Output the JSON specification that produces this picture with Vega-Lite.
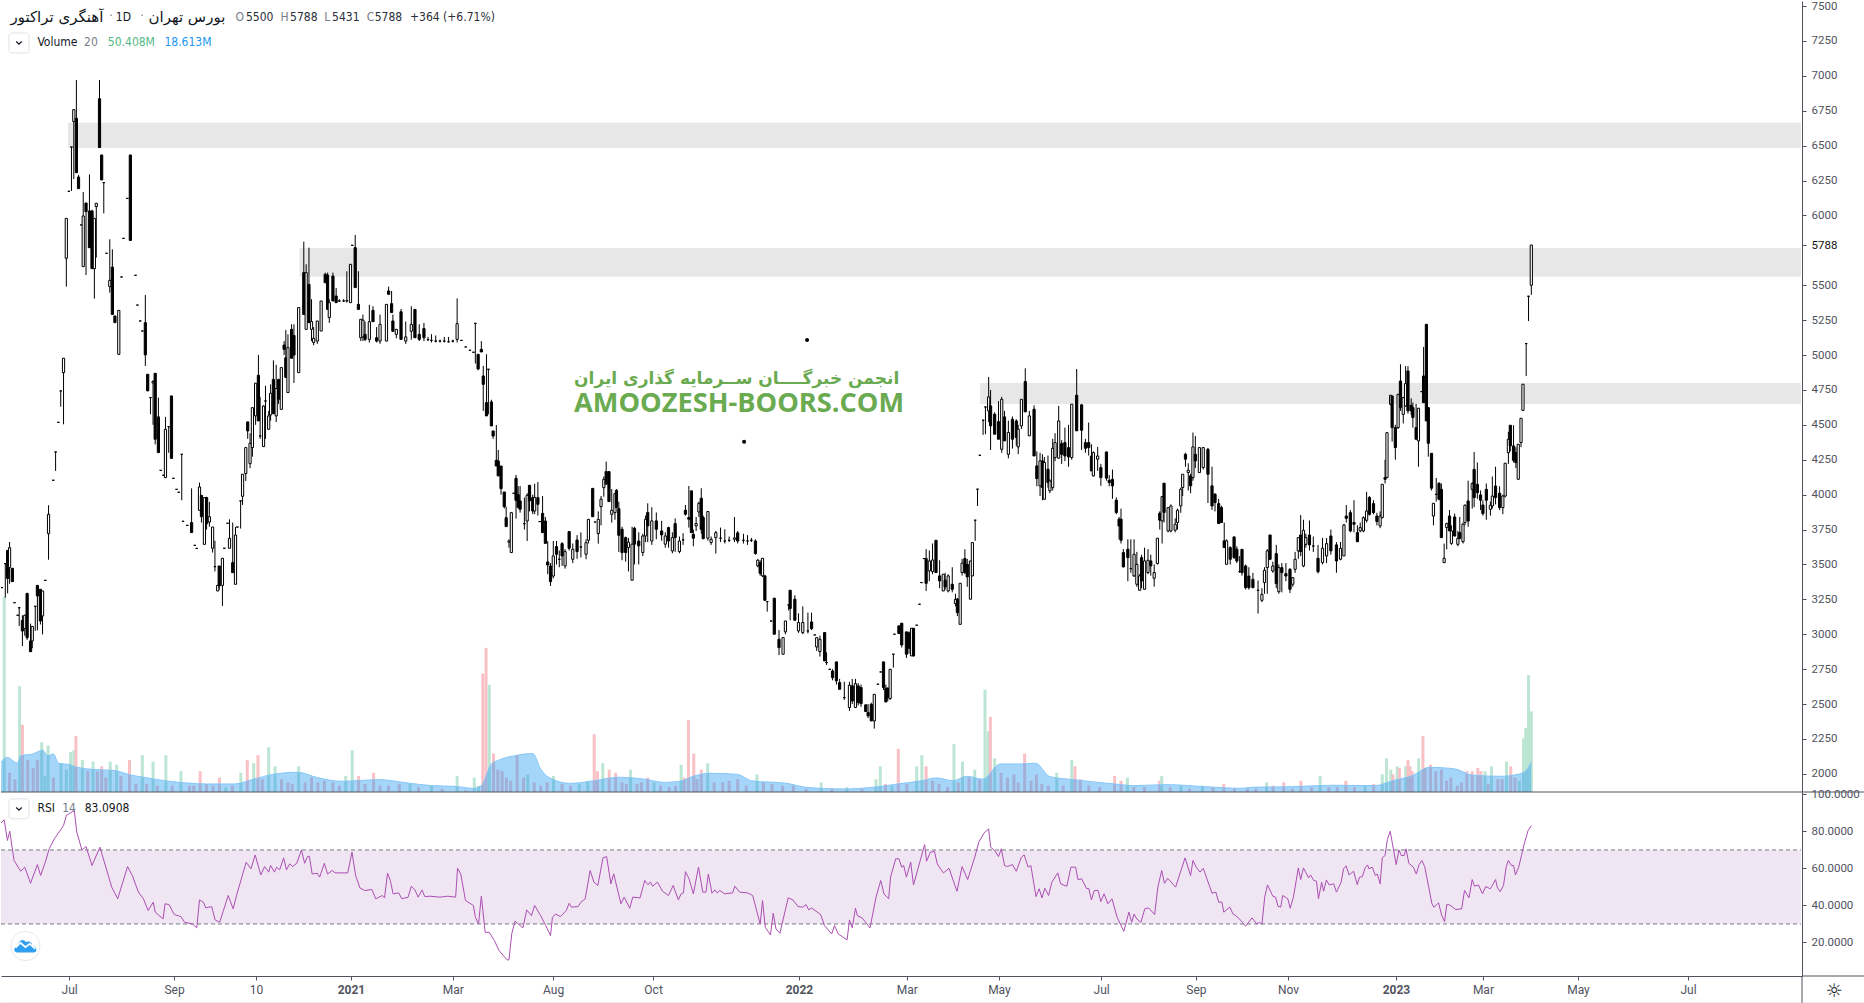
{"$schema":"https://vega.github.io/schema/vega-lite/v6.json","padding":0,"background":"#ffffff","spacing":0,"bounds":"flush",
"config":{"view":{"stroke":null},"concat":{"spacing":0},"font":"Roboto"},
"datasets":{
"zones":[{"t":31.3,"t2":840.5,"a":6483,"b":6663},{"t":139.4,"t2":840.5,"a":5560,"b":5767},{"t":457.2,"t2":840.5,"a":4650,"b":4800}],
"candles":[
{"t":0.4,"o":3334,"h":3334,"l":3334,"c":3334},{"t":2,"o":3506,"h":3506,"l":3262,"c":3506},{"t":3.1,"o":3600,"h":3601,"l":3293,"c":3400},{"t":4,"o":3477,"h":3661,"l":3362,"c":3620},{"t":5.3,"o":3472,"h":3475,"l":3377,"c":3377},{"t":6.3,"o":3226,"h":3226,"l":3226,"c":3226},{"t":7.8,"o":3136,"h":3136,"l":3136,"c":3136},{"t":8.5,"o":3190,"h":3190,"l":3059,"c":3190},{"t":10,"o":3100,"h":3136,"l":2916,"c":3023},{"t":11.1,"o":3040,"h":3140,"l":2990,"c":3136},{"t":12.2,"o":3293,"h":3293,"l":2960,"c":2975},{"t":13.8,"o":2952,"h":3076,"l":2875,"c":2875},{"t":14.6,"o":2952,"h":3056,"l":2900,"c":3056},{"t":16,"o":3200,"h":3200,"l":3024,"c":3200},{"t":17,"o":3350,"h":3350,"l":3028,"c":3274},{"t":18.4,"o":3322,"h":3322,"l":3070,"c":3095},{"t":19.4,"o":3131,"h":3310,"l":2999,"c":3310},{"t":20.7,"o":3386,"h":3386,"l":3386,"c":3386},{"t":22.2,"o":3720,"h":3924,"l":3534,"c":3859},{"t":24.4,"o":4103,"h":4103,"l":4103,"c":4103},{"t":25.5,"o":4306,"h":4306,"l":4170,"c":4306},{"t":26.8,"o":4518,"h":4518,"l":4518,"c":4518},{"t":27.9,"o":4743,"h":4743,"l":4630,"c":4743},{"t":29.2,"o":4874,"h":4977,"l":4504,"c":4977},
{"t":30.5,"o":5693,"h":5979,"l":5490,"c":5979},{"t":31.7,"o":6173,"h":6173,"l":6173,"c":6173},{"t":32.9,"o":6490,"h":6490,"l":6175,"c":6490},{"t":34,"o":6672,"h":6758,"l":6260,"c":6758},{"t":35.2,"o":6696,"h":6970,"l":6306,"c":6306},{"t":36.2,"o":6275,"h":6290,"l":6192,"c":6192},{"t":37.5,"o":5932,"h":5932,"l":5932,"c":5932},{"t":38.4,"o":5633,"h":6168,"l":5633,"c":5996},{"t":39.7,"o":6089,"h":6089,"l":5573,"c":6027},{"t":41.3,"o":6032,"h":6294,"l":5769,"c":5769},{"t":42.5,"o":6032,"h":6040,"l":5619,"c":5619},{"t":43.6,"o":5619,"h":5979,"l":5404,"c":5979},{"t":44.5,"o":6063,"h":6087,"l":5698,"c":6087},{"t":46,"o":6836,"h":6970,"l":6486,"c":6486},{"t":47,"o":6433,"h":6433,"l":6254,"c":6254},{"t":48,"o":6235,"h":6235,"l":6015,"c":6235},{"t":49.3,"o":5729,"h":5729,"l":5729,"c":5729},{"t":50.8,"o":5490,"h":5829,"l":5447,"c":5535},{"t":52,"o":5630,"h":5757,"l":5291,"c":5291},{"t":53.2,"o":5280,"h":5280,"l":5232,"c":5232},{"t":55,"o":5005,"h":5320,"l":5005,"c":5320},{"t":56.3,"o":5559,"h":5559,"l":5559,"c":5559},{"t":57.2,"o":5836,"h":5836,"l":5836,"c":5836},{"t":59,"o":6122,"h":6122,"l":6122,"c":6122},{"t":60.4,"o":6433,"h":6433,"l":5821,"c":5821},{"t":62.8,"o":5571,"h":5571,"l":5571,"c":5571},{"t":63.7,"o":5358,"h":5358,"l":5358,"c":5358},{"t":65,"o":5244,"h":5244,"l":5244,"c":5244},{"t":66,"o":5172,"h":5172,"l":5172,"c":5172},{"t":67.4,"o":5232,"h":5430,"l":4922,"c":5001},{"t":68.5,"o":4862,"h":4862,"l":4743,"c":4743},{"t":69.8,"o":4695,"h":4695,"l":4576,"c":4695},{"t":71,"o":4800,"h":4820,"l":4500,"c":4810},{"t":72,"o":4869,"h":4869,"l":4360,"c":4397},{"t":73.5,"o":4557,"h":4695,"l":4301,"c":4301},{"t":74.6,"o":4174,"h":4174,"l":4174,"c":4174},{"t":75.9,"o":4139,"h":4139,"l":4139,"c":4139},{"t":76.8,"o":4122,"h":4557,"l":4122,"c":4468},{"t":78.3,"o":4487,"h":4487,"l":4300,"c":4487},{"t":79.6,"o":4707,"h":4707,"l":4260,"c":4260},{"t":80.5,"o":4117,"h":4117,"l":4117,"c":4117},{"t":82,"o":4038,"h":4038,"l":4038,"c":4038},{"t":83,"o":4017,"h":4017,"l":4017,"c":4017},{"t":84.4,"o":4289,"h":4289,"l":3960,"c":4289},{"t":85,"o":3809,"h":3809,"l":3809,"c":3809},{"t":87,"o":3780,"h":3780,"l":3780,"c":3780},{"t":89,"o":3800,"h":4045,"l":3728,"c":3728},{"t":90.5,"o":3637,"h":3637,"l":3637,"c":3637},{"t":91.4,"o":3615,"h":3615,"l":3615,"c":3615},{"t":92.7,"o":3888,"h":4086,"l":3888,"c":4055},{"t":93.6,"o":3995,"h":3995,"l":3800,"c":3842},{"t":95,"o":3644,"h":3979,"l":3644,"c":3979},{"t":96,"o":3979,"h":3985,"l":3750,"c":3792},{"t":97.3,"o":3804,"h":3948,"l":3770,"c":3842},{"t":98.8,"o":3616,"h":3768,"l":3585,"c":3768},{"t":99.9,"o":3484,"h":3670,"l":3450,"c":3484},{"t":101.2,"o":3310,"h":3350,"l":3310,"c":3350},{"t":101.9,"o":3489,"h":3489,"l":3320,"c":3346},{"t":103.4,"o":3350,"h":3544,"l":3203,"c":3544},{"t":104.3,"o":3616,"h":3616,"l":3616,"c":3616},{"t":105.8,"o":3795,"h":3795,"l":3795,"c":3795},{"t":106.7,"o":3616,"h":3823,"l":3616,"c":3687},{"t":108.2,"o":3513,"h":3800,"l":3441,"c":3441},{"t":109.5,"o":3358,"h":3768,"l":3358,"c":3711},{"t":110.4,"o":3768,"h":3768,"l":3768,"c":3768},{"t":111.9,"o":3955,"h":3955,"l":3757,"c":3955},{"t":112.8,"o":3988,"h":4146,"l":3926,"c":4146},{"t":114.3,"o":4151,"h":4337,"l":4098,"c":4337},{"t":115.2,"o":4521,"h":4521,"l":4400,"c":4456},{"t":116.3,"o":4222,"h":4440,"l":4190,"c":4368},{"t":117.4,"o":4337,"h":4623,"l":4272,"c":4623},{"t":118.9,"o":4564,"h":4798,"l":4500,"c":4798},{"t":120.2,"o":4855,"h":5001,"l":4528,"c":4528},{"t":121,"o":4420,"h":4700,"l":4400,"c":4420},{"t":122.6,"o":4344,"h":4640,"l":4344,"c":4635},{"t":123.5,"o":4671,"h":4780,"l":4400,"c":4671},{"t":125,"o":4468,"h":4600,"l":4468,"c":4564},{"t":125.9,"o":4571,"h":4790,"l":4530,"c":4726},{"t":127.2,"o":4826,"h":4962,"l":4580,"c":4580},{"t":128.5,"o":4564,"h":4930,"l":4520,"c":4760},{"t":129.6,"o":4826,"h":4826,"l":4650,"c":4683},{"t":130.9,"o":4611,"h":4910,"l":4611,"c":4910},{"t":132.2,"o":5072,"h":5100,"l":5000,"c":5041},{"t":133,"o":4980,"h":5180,"l":4840,"c":4840},{"t":134,"o":4731,"h":5148,"l":4731,"c":5053},{"t":135.7,"o":5184,"h":5220,"l":4977,"c":4977},{"t":136.8,"o":5140,"h":5220,"l":4800,"c":5000},{"t":139,"o":4874,"h":5340,"l":4874,"c":5340},
{"t":141.4,"o":5590,"h":5812,"l":5291,"c":5291},{"t":142.5,"o":5184,"h":5650,"l":5184,"c":5590},{"t":143.8,"o":5506,"h":5769,"l":5232,"c":5232},{"t":145,"o":5184,"h":5400,"l":5100,"c":5240},{"t":146,"o":5090,"h":5200,"l":5070,"c":5120},{"t":147.7,"o":5100,"h":5244,"l":5080,"c":5244},{"t":149.5,"o":5172,"h":5387,"l":5172,"c":5387},{"t":151.4,"o":5578,"h":5590,"l":5518,"c":5518},{"t":152.5,"o":5573,"h":5590,"l":5327,"c":5327},{"t":153.3,"o":5268,"h":5400,"l":5230,"c":5375},{"t":155,"o":5566,"h":5590,"l":5387,"c":5387},{"t":156.5,"o":5423,"h":5480,"l":5375,"c":5375},{"t":158,"o":5387,"h":5400,"l":5380,"c":5387},{"t":160,"o":5387,"h":5400,"l":5380,"c":5387},{"t":161.5,"o":5387,"h":5600,"l":5375,"c":5390},{"t":163.2,"o":5375,"h":5650,"l":5375,"c":5650},{"t":164,"o":5786,"h":5786,"l":5786,"c":5786},{"t":165.4,"o":5769,"h":5860,"l":5483,"c":5483},{"t":166.9,"o":5363,"h":5600,"l":5327,"c":5327},{"t":168,"o":5124,"h":5256,"l":5100,"c":5256},{"t":169,"o":5130,"h":5290,"l":5100,"c":5250},{"t":170,"o":5148,"h":5240,"l":5100,"c":5112},{"t":172,"o":5112,"h":5360,"l":5090,"c":5239},{"t":173.7,"o":5320,"h":5350,"l":5239,"c":5239},{"t":175.4,"o":5124,"h":5200,"l":5090,"c":5100},{"t":177,"o":5100,"h":5290,"l":5080,"c":5220},{"t":180,"o":5100,"h":5363,"l":5100,"c":5363},{"t":181,"o":5459,"h":5490,"l":5435,"c":5435},{"t":182.4,"o":5368,"h":5459,"l":5304,"c":5304},{"t":183,"o":5244,"h":5290,"l":5170,"c":5170},{"t":184.6,"o":5148,"h":5184,"l":5120,"c":5184},{"t":186.8,"o":5310,"h":5330,"l":5112,"c":5112},{"t":189,"o":5100,"h":5240,"l":5080,"c":5130},{"t":191.6,"o":5170,"h":5350,"l":5110,"c":5220},{"t":193.3,"o":5327,"h":5327,"l":5124,"c":5124},{"t":195.3,"o":5148,"h":5220,"l":5100,"c":5112},{"t":197.5,"o":5190,"h":5230,"l":5100,"c":5124},{"t":199.4,"o":5110,"h":5130,"l":5100,"c":5110},{"t":201,"o":5105,"h":5150,"l":5090,"c":5105},{"t":203,"o":5100,"h":5140,"l":5090,"c":5100},{"t":205,"o":5100,"h":5110,"l":5090,"c":5100},{"t":207,"o":5100,"h":5130,"l":5090,"c":5100},{"t":209,"o":5095,"h":5130,"l":5090,"c":5095},{"t":211,"o":5100,"h":5110,"l":5090,"c":5100},{"t":213,"o":5112,"h":5406,"l":5090,"c":5225},{"t":215,"o":5105,"h":5105,"l":5105,"c":5105},{"t":217,"o":5058,"h":5058,"l":5058,"c":5058},{"t":219,"o":5034,"h":5034,"l":5034,"c":5034},{"t":220.6,"o":5020,"h":5020,"l":5020,"c":5020},{"t":221.5,"o":5227,"h":5227,"l":4939,"c":5227},{"t":222.8,"o":5005,"h":5005,"l":4891,"c":4900},{"t":224.3,"o":5041,"h":5100,"l":5022,"c":5022},{"t":225.2,"o":4850,"h":4922,"l":4600,"c":4790},{"t":226.7,"o":4659,"h":5005,"l":4564,"c":4564},{"t":227.6,"o":4898,"h":4898,"l":4576,"c":4898},{"t":229,"o":4664,"h":4680,"l":4492,"c":4492},{"t":229.8,"o":4456,"h":4456,"l":4400,"c":4420},{"t":231.3,"o":4246,"h":4499,"l":4205,"c":4205},{"t":232.2,"o":4241,"h":4320,"l":4134,"c":4134},{"t":233.5,"o":4205,"h":4205,"l":4000,"c":4043},{"t":235,"o":4019,"h":4019,"l":3900,"c":3914},{"t":235.9,"o":3835,"h":3914,"l":3771,"c":3771},{"t":237.2,"o":3660,"h":3680,"l":3620,"c":3668},{"t":238.3,"o":3585,"h":3871,"l":3585,"c":3871},{"t":239.4,"o":4010,"h":4010,"l":4010,"c":4010},{"t":240.5,"o":4117,"h":4141,"l":3828,"c":3959},{"t":241.5,"o":4000,"h":4060,"l":3900,"c":3910},{"t":242.4,"o":3955,"h":4062,"l":3871,"c":3895},{"t":244.4,"o":3792,"h":3979,"l":3750,"c":3792},{"t":245.7,"o":3811,"h":4010,"l":3668,"c":3995},{"t":246.8,"o":4067,"h":4067,"l":3880,"c":3955},{"t":248.3,"o":3979,"h":4000,"l":3860,"c":3883},{"t":249.2,"o":3883,"h":4078,"l":3860,"c":3980},{"t":250.7,"o":3979,"h":4090,"l":3850,"c":3931},{"t":251.6,"o":3807,"h":3807,"l":3807,"c":3807},{"t":252.9,"o":3866,"h":3990,"l":3728,"c":3728},{"t":254.2,"o":3811,"h":3840,"l":3651,"c":3651},{"t":255.3,"o":3518,"h":3668,"l":3430,"c":3496},{"t":256.6,"o":3489,"h":3510,"l":3346,"c":3377},{"t":257.9,"o":3417,"h":3668,"l":3400,"c":3561},{"t":259.4,"o":3628,"h":3668,"l":3500,"c":3573},{"t":260.7,"o":3537,"h":3600,"l":3480,"c":3537},{"t":262,"o":3649,"h":3660,"l":3490,"c":3561},{"t":263.4,"o":3489,"h":3610,"l":3470,"c":3592},{"t":265.3,"o":3735,"h":3740,"l":3600,"c":3616},{"t":267,"o":3537,"h":3650,"l":3510,"c":3609},{"t":269,"o":3675,"h":3710,"l":3540,"c":3592},{"t":270.8,"o":3625,"h":3730,"l":3550,"c":3625},{"t":273.2,"o":3573,"h":3680,"l":3537,"c":3656},{"t":274.3,"o":3673,"h":3823,"l":3650,"c":3823},{"t":276.3,"o":4045,"h":4045,"l":3842,"c":3842},{"t":277.4,"o":3804,"h":3804,"l":3804,"c":3804},{"t":278.9,"o":3721,"h":3880,"l":3649,"c":3823},{"t":280.2,"o":3914,"h":3990,"l":3780,"c":3967},{"t":281.5,"o":4050,"h":4130,"l":3985,"c":4110},{"t":282.6,"o":4165,"h":4237,"l":4075,"c":4075},{"t":283.9,"o":4165,"h":4165,"l":3950,"c":3950},{"t":285.2,"o":3859,"h":4040,"l":3800,"c":3888},{"t":286.7,"o":3871,"h":4007,"l":3820,"c":4007},{"t":287.4,"o":4031,"h":4040,"l":3907,"c":3907},{"t":288.5,"o":3900,"h":3950,"l":3590,"c":3709},
{"t":290,"o":3752,"h":3770,"l":3530,"c":3585},{"t":291.7,"o":3692,"h":3700,"l":3520,"c":3585},{"t":293,"o":3620,"h":3690,"l":3450,"c":3660},{"t":294.7,"o":3387,"h":3770,"l":3387,"c":3645},{"t":295.8,"o":3759,"h":3770,"l":3500,"c":3645},{"t":297.8,"o":3668,"h":3730,"l":3500,"c":3633},{"t":299.7,"o":3585,"h":3720,"l":3560,"c":3704},{"t":301,"o":3704,"h":3850,"l":3660,"c":3824},{"t":302,"o":3872,"h":3938,"l":3660,"c":3776},{"t":303.9,"o":3668,"h":3910,"l":3640,"c":3812},{"t":306,"o":3812,"h":3872,"l":3680,"c":3752},{"t":308.5,"o":3740,"h":3812,"l":3670,"c":3712},{"t":310.2,"o":3645,"h":3730,"l":3620,"c":3704},{"t":311.7,"o":3764,"h":3770,"l":3620,"c":3668},{"t":313.5,"o":3597,"h":3730,"l":3580,"c":3692},{"t":314.8,"o":3793,"h":3830,"l":3590,"c":3692},{"t":316.8,"o":3592,"h":3700,"l":3580,"c":3668},{"t":318.5,"o":3676,"h":3724,"l":3640,"c":3676},{"t":319.6,"o":3888,"h":3926,"l":3850,"c":3860},{"t":321.2,"o":3836,"h":4062,"l":3764,"c":3824},{"t":322.4,"o":4027,"h":4027,"l":3728,"c":3728},{"t":323.3,"o":3716,"h":3750,"l":3630,"c":3688},{"t":324.6,"o":3776,"h":3840,"l":3740,"c":3793},{"t":325.9,"o":3876,"h":3950,"l":3840,"c":3938},{"t":327,"o":3974,"h":4046,"l":3720,"c":3752},{"t":327.9,"o":3836,"h":3850,"l":3680,"c":3685},{"t":330.1,"o":3688,"h":3879,"l":3670,"c":3879},{"t":331.6,"o":3657,"h":3700,"l":3640,"c":3680},{"t":333.8,"o":3692,"h":3740,"l":3578,"c":3728},{"t":336,"o":3688,"h":3764,"l":3660,"c":3688},{"t":338,"o":3668,"h":3752,"l":3650,"c":3668},{"t":340,"o":3673,"h":3700,"l":3660,"c":3673},{"t":342.5,"o":3680,"h":3840,"l":3660,"c":3690},{"t":344,"o":3726,"h":3740,"l":3650,"c":3668},{"t":346.7,"o":3673,"h":3720,"l":3650,"c":3673},{"t":348.6,"o":3668,"h":3710,"l":3640,"c":3668},{"t":350.4,"o":3673,"h":3690,"l":3660,"c":3673},{"t":352.3,"o":3668,"h":3680,"l":3570,"c":3578},{"t":353.4,"o":3490,"h":3540,"l":3480,"c":3530},{"t":354.5,"o":3513,"h":3530,"l":3420,"c":3437},{"t":355.6,"o":3418,"h":3544,"l":3410,"c":3544},{"t":356.7,"o":3418,"h":3425,"l":3243,"c":3243},{"t":357.8,"o":3234,"h":3234,"l":3162,"c":3234},{"t":359.6,"o":3095,"h":3095,"l":3095,"c":3095},{"t":361.1,"o":3258,"h":3260,"l":3000,"c":3000},{"t":363.3,"o":2964,"h":3030,"l":2850,"c":2904},{"t":365.2,"o":2857,"h":2976,"l":2857,"c":2976},{"t":366.3,"o":3017,"h":3095,"l":3000,"c":3095},{"t":367.8,"o":3210,"h":3210,"l":3170,"c":3210},{"t":368.5,"o":3315,"h":3315,"l":3100,"c":3184},{"t":370.7,"o":3251,"h":3280,"l":3100,"c":3100},{"t":372.4,"o":3024,"h":3150,"l":3010,"c":3084},{"t":374.4,"o":3012,"h":3200,"l":3000,"c":3084},{"t":376.8,"o":3024,"h":3155,"l":3005,"c":3024},{"t":378.5,"o":3088,"h":3155,"l":3030,"c":3040},{"t":380,"o":2995,"h":2995,"l":2995,"c":2995},{"t":380.9,"o":2909,"h":2976,"l":2880,"c":2976},{"t":382.4,"o":2876,"h":2990,"l":2840,"c":2964},{"t":384.6,"o":3012,"h":3012,"l":2809,"c":2809},{"t":385.5,"o":2797,"h":2870,"l":2780,"c":2797},{"t":387,"o":2749,"h":2749,"l":2749,"c":2749},{"t":388.3,"o":2737,"h":2750,"l":2670,"c":2689},{"t":390.1,"o":2802,"h":2802,"l":2640,"c":2666},{"t":391.6,"o":2654,"h":2680,"l":2606,"c":2606},{"t":393.8,"o":2546,"h":2660,"l":2530,"c":2546},{"t":396.2,"o":2475,"h":2660,"l":2450,"c":2635},{"t":397.5,"o":2630,"h":2680,"l":2500,"c":2522},{"t":399,"o":2475,"h":2680,"l":2475,"c":2646},{"t":400.3,"o":2630,"h":2650,"l":2490,"c":2510},{"t":401.6,"o":2618,"h":2640,"l":2480,"c":2503},{"t":403.8,"o":2494,"h":2500,"l":2446,"c":2446},{"t":404.9,"o":2439,"h":2500,"l":2400,"c":2415},{"t":406.4,"o":2498,"h":2510,"l":2379,"c":2379},{"t":407.8,"o":2379,"h":2570,"l":2324,"c":2570},{"t":409.5,"o":2642,"h":2642,"l":2642,"c":2642},{"t":410.8,"o":2730,"h":2730,"l":2730,"c":2730},{"t":412.1,"o":2802,"h":2802,"l":2600,"c":2618},{"t":413.2,"o":2613,"h":2640,"l":2515,"c":2515},{"t":414.1,"o":2613,"h":2620,"l":2520,"c":2546},{"t":415.2,"o":2539,"h":2749,"l":2530,"c":2749},{"t":416.7,"o":2857,"h":2857,"l":2761,"c":2857},{"t":417.2,"o":3000,"h":3000,"l":3000,"c":3000},{"t":419.3,"o":3060,"h":3060,"l":3005,"c":3005},{"t":420.6,"o":3079,"h":3079,"l":2905,"c":2923},{"t":422.8,"o":3017,"h":3017,"l":2830,"c":2857},{"t":424,"o":3010,"h":3020,"l":2860,"c":2900},{"t":425.2,"o":2845,"h":3043,"l":2845,"c":3043},{"t":426.1,"o":3043,"h":3043,"l":2840,"c":2845},{"t":427.6,"o":3065,"h":3065,"l":3065,"c":3065},{"t":428.9,"o":3215,"h":3215,"l":3215,"c":3215},{"t":429.8,"o":3370,"h":3370,"l":3370,"c":3370},{"t":431,"o":3542,"h":3542,"l":3542,"c":3542},{"t":432,"o":3542,"h":3610,"l":3310,"c":3365},{"t":433.5,"o":3454,"h":3600,"l":3380,"c":3525},{"t":435,"o":3449,"h":3650,"l":3430,"c":3532},{"t":436.6,"o":3673,"h":3673,"l":3442,"c":3442},{"t":438.3,"o":3418,"h":3530,"l":3330,"c":3382},{"t":440,"o":3310,"h":3430,"l":3310,"c":3430},{"t":440.9,"o":3387,"h":3440,"l":3320,"c":3339},{"t":442.3,"o":3310,"h":3430,"l":3300,"c":3418},{"t":444.2,"o":3358,"h":3480,"l":3300,"c":3322},{"t":445.7,"o":3220,"h":3290,"l":3200,"c":3250},{"t":446.6,"o":3251,"h":3260,"l":3130,"c":3155},{"t":447.9,"o":3071,"h":3365,"l":3071,"c":3365},{"t":448.8,"o":3442,"h":3540,"l":3420,"c":3509},{"t":450.1,"o":3542,"h":3609,"l":3430,"c":3442},{"t":451.2,"o":3501,"h":3540,"l":3340,"c":3411},{"t":452.7,"o":3251,"h":3525,"l":3251,"c":3525},{"t":453.6,"o":3418,"h":3657,"l":3418,"c":3657},{"t":454.9,"o":3817,"h":3817,"l":3669,"c":3817},{"t":456,"o":4039,"h":4039,"l":3919,"c":4039},{"t":457.1,"o":4282,"h":4282,"l":4282,"c":4282},{"t":458.6,"o":4533,"h":4533,"l":4428,"c":4533},{"t":459.7,"o":4628,"h":4628,"l":4433,"c":4628},{"t":461.2,"o":4600,"h":4843,"l":4520,"c":4700},{"t":462.1,"o":4636,"h":4750,"l":4320,"c":4492},{"t":464,"o":4576,"h":4590,"l":4433,"c":4433},{"t":465.8,"o":4523,"h":4670,"l":4397,"c":4397},{"t":467.3,"o":4325,"h":4700,"l":4300,"c":4683},{"t":468.6,"o":4557,"h":4600,"l":4385,"c":4385},{"t":470.4,"o":4289,"h":4530,"l":4260,"c":4445},{"t":472.3,"o":4540,"h":4560,"l":4330,"c":4397},{"t":474.1,"o":4528,"h":4540,"l":4350,"c":4409},{"t":475,"o":4342,"h":4500,"l":4290,"c":4469},{"t":476.5,"o":4492,"h":4683,"l":4470,"c":4683},{"t":478.3,"o":4810,"h":4905,"l":4593,"c":4593},{"t":480.2,"o":4421,"h":4600,"l":4421,"c":4564},{"t":482.4,"o":4612,"h":4640,"l":4277,"c":4277},{"t":483.7,"o":4206,"h":4310,"l":4060,"c":4115},{"t":485.2,"o":4063,"h":4300,"l":3990,"c":4242},{"t":486.3,"o":4242,"h":4290,"l":3960,"c":4051},{"t":487.2,"o":3967,"h":4270,"l":3967,"c":4230},{"t":488.9,"o":4182,"h":4280,"l":4050,"c":4086},{"t":489.8,"o":4027,"h":4110,"l":4010,"c":4098},{"t":491.1,"o":4051,"h":4400,"l":4030,"c":4332},{"t":492.2,"o":4265,"h":4440,"l":4240,"c":4373},{"t":493.9,"o":4261,"h":4635,"l":4261,"c":4528},{"t":495.3,"o":4366,"h":4390,"l":4220,"c":4289},{"t":496.8,"o":4373,"h":4480,"l":4240,"c":4277},{"t":498.5,"o":4337,"h":4500,"l":4200,"c":4270},{"t":500,"o":4266,"h":4648,"l":4250,"c":4648},{"t":502.3,"o":4712,"h":4900,"l":4457,"c":4457},{"t":504.6,"o":4643,"h":4650,"l":4320,"c":4461},{"t":506.4,"o":4373,"h":4400,"l":4300,"c":4332},{"t":507.9,"o":4373,"h":4516,"l":4280,"c":4337},{"t":509.2,"o":4277,"h":4360,"l":4170,"c":4170},{"t":510.1,"o":4134,"h":4310,"l":4130,"c":4301},{"t":512.1,"o":4254,"h":4342,"l":4170,"c":4277},{"t":513.6,"o":4194,"h":4220,"l":4063,"c":4122},{"t":516.2,"o":4306,"h":4306,"l":4100,"c":4118},{"t":517.5,"o":4103,"h":4140,"l":4060,"c":4086},{"t":519,"o":4110,"h":4180,"l":3970,"c":4063},{"t":520.8,"o":3960,"h":3980,"l":3860,"c":3872},{"t":522.1,"o":3824,"h":3840,"l":3680,"c":3776},{"t":523,"o":3824,"h":3900,"l":3650,"c":3673},{"t":524.1,"o":3585,"h":3610,"l":3480,"c":3482},{"t":526.2,"o":3609,"h":3680,"l":3380,"c":3549},{"t":527.6,"o":3470,"h":3680,"l":3440,"c":3470},{"t":529.1,"o":3418,"h":3680,"l":3410,"c":3573},{"t":530.4,"o":3358,"h":3590,"l":3340,"c":3501},{"t":531.7,"o":3315,"h":3430,"l":3315,"c":3418},{"t":532.6,"o":3549,"h":3570,"l":3330,"c":3382},{"t":534,"o":3322,"h":3620,"l":3322,"c":3525},{"t":535.6,"o":3442,"h":3610,"l":3430,"c":3530},{"t":536.9,"o":3525,"h":3570,"l":3420,"c":3490},{"t":538.5,"o":3401,"h":3500,"l":3341,"c":3442},{"t":540,"o":3506,"h":3688,"l":3500,"c":3688},{"t":541.1,"o":3867,"h":3880,"l":3750,"c":3817},{"t":542.2,"o":3812,"h":3986,"l":3650,"c":3986},{"t":543.1,"o":4082,"h":4082,"l":3800,"c":3872},{"t":545,"o":3740,"h":3907,"l":3730,"c":3907},{"t":546.3,"o":3740,"h":3930,"l":3730,"c":3919},{"t":548.3,"o":3745,"h":3830,"l":3730,"c":3788},{"t":549.4,"o":3800,"h":3900,"l":3750,"c":3888},{"t":550.9,"o":3919,"h":4050,"l":3870,"c":4039},{"t":551.8,"o":4051,"h":4146,"l":3990,"c":4146},{"t":553.1,"o":4289,"h":4300,"l":4200,"c":4254},{"t":554.4,"o":4158,"h":4225,"l":4030,"c":4175},{"t":555.5,"o":4134,"h":4150,"l":4010,"c":4063},{"t":556.6,"o":4122,"h":4445,"l":4100,"c":4342},{"t":557.7,"o":4289,"h":4420,"l":4190,"c":4242},{"t":559.6,"o":4158,"h":4340,"l":4158,"c":4337},{"t":561.4,"o":4194,"h":4340,"l":4180,"c":4337},{"t":563.6,"o":4325,"h":4335,"l":3940,"c":4146},{"t":565.5,"o":4063,"h":4200,"l":3890,"c":3919},{"t":566.9,"o":4003,"h":4010,"l":3880,"c":3943},{"t":568.6,"o":3936,"h":3970,"l":3790,"c":3793},{"t":569.9,"o":3907,"h":3920,"l":3800,"c":3800},{"t":571.2,"o":3669,"h":3800,"l":3621,"c":3621},{"t":572.3,"o":3501,"h":3680,"l":3501,"c":3669},{"t":574,"o":3621,"h":3630,"l":3500,"c":3537},{"t":575.8,"o":3697,"h":3700,"l":3540,"c":3549},{"t":577.1,"o":3609,"h":3630,"l":3510,"c":3525},{"t":578.4,"o":3449,"h":3560,"l":3440,"c":3449},
{"t":579.5,"o":3608,"h":3608,"l":3420,"c":3441},{"t":581.2,"o":3489,"h":3500,"l":3320,"c":3334},{"t":582.7,"o":3417,"h":3480,"l":3320,"c":3334},{"t":584.6,"o":3393,"h":3440,"l":3330,"c":3334},{"t":587,"o":3315,"h":3385,"l":3148,"c":3315},{"t":588.8,"o":3243,"h":3330,"l":3230,"c":3286},{"t":590,"o":3370,"h":3480,"l":3290,"c":3458},{"t":591.3,"o":3477,"h":3610,"l":3290,"c":3597},{"t":592.6,"o":3711,"h":3711,"l":3530,"c":3537},{"t":593.9,"o":3453,"h":3520,"l":3440,"c":3489},{"t":595.5,"o":3577,"h":3640,"l":3330,"c":3363},{"t":596.7,"o":3305,"h":3500,"l":3290,"c":3477},{"t":598.1,"o":3477,"h":3510,"l":3300,"c":3441},{"t":600,"o":3434,"h":3510,"l":3380,"c":3417},{"t":601.9,"o":3465,"h":3475,"l":3295,"c":3322},{"t":603.2,"o":3358,"h":3410,"l":3340,"c":3405},{"t":604.3,"o":3465,"h":3590,"l":3440,"c":3537},{"t":605.8,"o":3597,"h":3692,"l":3540,"c":3692},{"t":606.9,"o":3711,"h":3854,"l":3560,"c":3592},{"t":608.2,"o":3489,"h":3820,"l":3480,"c":3745},{"t":609.3,"o":3644,"h":3720,"l":3620,"c":3692},{"t":611,"o":3711,"h":3815,"l":3600,"c":3640},{"t":612.8,"o":3632,"h":3700,"l":3590,"c":3632},{"t":615,"o":3544,"h":3640,"l":3435,"c":3448},{"t":617.1,"o":3513,"h":3690,"l":3500,"c":3616},{"t":619,"o":3561,"h":3690,"l":3510,"c":3649},{"t":621,"o":3704,"h":3750,"l":3570,"c":3597},{"t":623.6,"o":3640,"h":3660,"l":3440,"c":3525},{"t":625.5,"o":3537,"h":3660,"l":3530,"c":3616},{"t":627.1,"o":3561,"h":3790,"l":3561,"c":3783},{"t":628.2,"o":3847,"h":3925,"l":3800,"c":3830},{"t":630.1,"o":3871,"h":3890,"l":3730,"c":3740},{"t":631.8,"o":3800,"h":3960,"l":3730,"c":3788},{"t":633.4,"o":3728,"h":3780,"l":3660,"c":3663},{"t":634.7,"o":3740,"h":3800,"l":3730,"c":3764},{"t":636.2,"o":3740,"h":3845,"l":3730,"c":3835},{"t":637.7,"o":3816,"h":4020,"l":3800,"c":3883},{"t":639,"o":3979,"h":3990,"l":3850,"c":3859},{"t":640.9,"o":3936,"h":3960,"l":3860,"c":3871},{"t":642.5,"o":3847,"h":3870,"l":3780,"c":3807},{"t":644,"o":3776,"h":3880,"l":3760,"c":3847},{"t":645,"o":3835,"h":4074,"l":3830,"c":4074},{"t":646.3,"o":4122,"h":4250,"l":4080,"c":4110},{"t":647.2,"o":4122,"h":4444,"l":4122,"c":4444},{"t":648.9,"o":4647,"h":4712,"l":4640,"c":4712},{"t":649.6,"o":4707,"h":4707,"l":4380,"c":4480},{"t":651.1,"o":4480,"h":4500,"l":4250,"c":4337},{"t":652.4,"o":4480,"h":4719,"l":4470,"c":4719},{"t":653.5,"o":4814,"h":4934,"l":4600,"c":4623},{"t":654.8,"o":4575,"h":4700,"l":4510,"c":4695},{"t":655.9,"o":4635,"h":4920,"l":4630,"c":4795},{"t":657,"o":4886,"h":4920,"l":4580,"c":4600},{"t":658.5,"o":4640,"h":4690,"l":4570,"c":4600},{"t":659.3,"o":4623,"h":4660,"l":4480,"c":4552},{"t":660.8,"o":4480,"h":4650,"l":4397,"c":4397},{"t":661.9,"o":4385,"h":4619,"l":4200,"c":4619},{"t":663.4,"o":4738,"h":4738,"l":4738,"c":4738},{"t":664.3,"o":4850,"h":5058,"l":4659,"c":4659},{"t":665.6,"o":5220,"h":5220,"l":4528,"c":4528},{"t":666.5,"o":4623,"h":4623,"l":4272,"c":4368},{"t":668,"o":4296,"h":4296,"l":4030,"c":4046},{"t":668.9,"o":3847,"h":3938,"l":3780,"c":3938},{"t":670.2,"o":4002,"h":4120,"l":3950,"c":4002},{"t":671.5,"o":4081,"h":4090,"l":3960,"c":3967},{"t":672.6,"o":4038,"h":4080,"l":3692,"c":3692},{"t":673.9,"o":3513,"h":3649,"l":3513,"c":3544},{"t":675.1,"o":3764,"h":3800,"l":3608,"c":3792},{"t":676.4,"o":3847,"h":3890,"l":3740,"c":3740},{"t":677.3,"o":3651,"h":3780,"l":3640,"c":3740},{"t":678.8,"o":3840,"h":3865,"l":3700,"c":3704},{"t":680.3,"o":3644,"h":3740,"l":3630,"c":3687},{"t":681.2,"o":3728,"h":3840,"l":3680,"c":3687},{"t":682.7,"o":3663,"h":3800,"l":3650,"c":3788},{"t":683.6,"o":3800,"h":3930,"l":3780,"c":3924},{"t":685.1,"o":3955,"h":4100,"l":3770,"c":3811},{"t":687,"o":4038,"h":4090,"l":3900,"c":4079},{"t":687.9,"o":4181,"h":4305,"l":3910,"c":3979},{"t":689.4,"o":4074,"h":4230,"l":3970,"c":4014},{"t":690.9,"o":3998,"h":4030,"l":3890,"c":3960},{"t":692,"o":3926,"h":3960,"l":3850,"c":3864},{"t":693.6,"o":4038,"h":4080,"l":3820,"c":3960},{"t":695.5,"o":3895,"h":3950,"l":3850,"c":3924},{"t":696.4,"o":3919,"h":4130,"l":3900,"c":3990},{"t":697.9,"o":4062,"h":4200,"l":3930,"c":3979},{"t":699.8,"o":4010,"h":4060,"l":3890,"c":3907},{"t":701.3,"o":3907,"h":4000,"l":3860,"c":3990},{"t":702.4,"o":3990,"h":4225,"l":3980,"c":4225},{"t":703.9,"o":4301,"h":4450,"l":4220,"c":4397},{"t":704.8,"o":4497,"h":4497,"l":4310,"c":4349},{"t":706.3,"o":4349,"h":4497,"l":4230,"c":4246},{"t":707.4,"o":4301,"h":4340,"l":4190,"c":4229},{"t":708.5,"o":4110,"h":4361,"l":4110,"c":4361},{"t":709.8,"o":4373,"h":4547,"l":4340,"c":4547},{"t":710.7,"o":4604,"h":4791,"l":4600,"c":4791},{"t":712.2,"o":5082,"h":5082,"l":4850,"c":5082},{"t":713.3,"o":5421,"h":5421,"l":5244,"c":5421},{"t":714.6,"o":5500,"h":5788,"l":5431,"c":5788}],
"volume":[
{"t":1.5,"v":122,"u":1},{"t":4,"v":12,"u":0},{"t":6.5,"v":8,"u":0},{"t":8.7,"v":66,"u":1},{"t":10,"v":42,"u":0},{"t":12.5,"v":20,"u":0},{"t":15,"v":15,"u":0},{"t":17,"v":20,"u":0},{"t":19,"v":31,"u":1},{"t":20.5,"v":10,"u":1},{"t":22,"v":29,"u":1},{"t":24.5,"v":9,"u":0},{"t":28,"v":18,"u":1},{"t":30.5,"v":14,"u":1},{"t":32.5,"v":25,"u":1},{"t":34,"v":26,"u":1},{"t":35,"v":35,"u":0},{"t":38,"v":20,"u":1},{"t":40.5,"v":13,"u":0},{"t":43,"v":19,"u":1},{"t":45,"v":13,"u":0},{"t":47,"v":16,"u":0},{"t":49,"v":9,"u":0},{"t":51,"v":19,"u":1},{"t":54,"v":17,"u":1},{"t":56,"v":10,"u":0},{"t":60,"v":20,"u":0},{"t":63,"v":5,"u":0},{"t":66,"v":23,"u":1},{"t":68,"v":5,"u":0},{"t":71,"v":19,"u":1},{"t":73,"v":4,"u":0},{"t":77,"v":23,"u":1},{"t":80,"v":4,"u":0},{"t":84,"v":13,"u":1},{"t":88,"v":4,"u":0},{"t":90,"v":4,"u":0},{"t":93,"v":13,"u":0},{"t":96,"v":5,"u":0},{"t":99,"v":4,"u":0},{"t":102,"v":9,"u":0},{"t":105,"v":3,"u":1},{"t":108,"v":4,"u":0},{"t":112,"v":12,"u":1},{"t":115,"v":20,"u":0},{"t":118,"v":18,"u":1},{"t":120,"v":23,"u":0},{"t":122,"v":8,"u":0},{"t":125,"v":28,"u":1},{"t":128,"v":16,"u":1},{"t":131,"v":8,"u":0},{"t":134,"v":6,"u":0},{"t":136,"v":5,"u":0},{"t":139,"v":16,"u":1},{"t":142,"v":6,"u":0},{"t":145,"v":9,"u":0},{"t":148,"v":6,"u":0},{"t":151,"v":7,"u":0},{"t":155,"v":6,"u":0},{"t":158,"v":4,"u":0},{"t":161,"v":10,"u":1},{"t":164,"v":26,"u":1},{"t":167,"v":10,"u":0},{"t":170,"v":5,"u":0},{"t":174,"v":12,"u":0},{"t":177,"v":4,"u":0},{"t":181,"v":4,"u":0},{"t":186,"v":5,"u":0},{"t":191,"v":5,"u":1},{"t":195,"v":3,"u":0},{"t":201,"v":4,"u":1},{"t":206,"v":2,"u":0},{"t":213,"v":10,"u":1},{"t":217,"v":1,"u":0},{"t":221,"v":9,"u":1},{"t":223,"v":4,"u":1},{"t":225,"v":74,"u":0},{"t":226.5,"v":90,"u":0},{"t":228,"v":67,"u":1},{"t":230,"v":24,"u":0},{"t":232,"v":14,"u":0},{"t":234,"v":13,"u":0},{"t":236,"v":9,"u":0},{"t":238,"v":7,"u":0},{"t":241,"v":23,"u":0},{"t":244,"v":9,"u":0},{"t":246,"v":11,"u":1},{"t":249,"v":6,"u":0},{"t":252,"v":4,"u":0},{"t":255,"v":6,"u":0},{"t":258,"v":10,"u":1},{"t":262,"v":5,"u":0},{"t":266,"v":4,"u":0},{"t":270,"v":5,"u":1},{"t":274,"v":7,"u":1},{"t":277,"v":36,"u":0},{"t":278.5,"v":13,"u":0},{"t":281,"v":18,"u":1},{"t":284,"v":14,"u":0},{"t":287,"v":12,"u":0},{"t":290,"v":6,"u":0},{"t":292,"v":5,"u":0},{"t":294,"v":14,"u":1},{"t":297,"v":5,"u":0},{"t":299,"v":6,"u":0},{"t":302,"v":9,"u":0},{"t":305,"v":6,"u":1},{"t":308,"v":4,"u":0},{"t":312,"v":3,"u":0},{"t":315,"v":4,"u":0},{"t":317.6,"v":17,"u":1},{"t":319,"v":9,"u":0},{"t":321,"v":45,"u":0},{"t":323.5,"v":24,"u":0},{"t":325,"v":8,"u":0},{"t":327,"v":14,"u":0},{"t":330,"v":18,"u":1},{"t":333,"v":6,"u":0},{"t":337,"v":6,"u":0},{"t":340,"v":7,"u":0},{"t":344,"v":8,"u":0},{"t":348,"v":4,"u":0},{"t":353,"v":11,"u":1},{"t":356,"v":6,"u":0},{"t":360,"v":5,"u":0},{"t":365,"v":4,"u":0},{"t":370,"v":4,"u":0},{"t":376,"v":2,"u":0},{"t":383,"v":6,"u":1},{"t":388,"v":2,"u":0},{"t":395,"v":3,"u":1},{"t":402,"v":2,"u":0},{"t":408.6,"v":8,"u":1},{"t":410.6,"v":16,"u":1},{"t":413,"v":5,"u":0},{"t":416,"v":4,"u":1},{"t":419,"v":27,"u":0},{"t":423,"v":5,"u":0},{"t":427.6,"v":16,"u":1},{"t":430,"v":23,"u":1},{"t":432,"v":16,"u":0},{"t":435,"v":7,"u":0},{"t":438,"v":5,"u":0},{"t":442,"v":3,"u":0},{"t":445,"v":30,"u":1},{"t":447,"v":6,"u":0},{"t":449,"v":19,"u":1},{"t":452,"v":9,"u":0},{"t":454.7,"v":14,"u":1},{"t":457,"v":8,"u":0},{"t":459.5,"v":64,"u":1},{"t":461,"v":38,"u":1},{"t":462,"v":47,"u":0},{"t":464,"v":21,"u":1},{"t":467,"v":12,"u":0},{"t":470,"v":9,"u":0},{"t":473,"v":11,"u":0},{"t":475,"v":6,"u":0},{"t":478,"v":24,"u":0},{"t":481,"v":7,"u":0},{"t":483.5,"v":11,"u":0},{"t":486,"v":5,"u":0},{"t":489,"v":4,"u":0},{"t":493,"v":12,"u":1},{"t":496,"v":4,"u":0},{"t":500,"v":20,"u":1},{"t":501.5,"v":16,"u":0},{"t":504,"v":8,"u":0},{"t":508,"v":4,"u":0},{"t":513,"v":3,"u":0},{"t":520,"v":10,"u":0},{"t":523,"v":7,"u":0},{"t":526,"v":9,"u":1},{"t":529,"v":3,"u":0},{"t":534,"v":3,"u":0},{"t":541,"v":7,"u":0},{"t":542,"v":10,"u":1},{"t":546,"v":3,"u":0},{"t":551,"v":4,"u":1},{"t":555,"v":2,"u":0},{"t":561,"v":4,"u":1},{"t":566,"v":3,"u":0},{"t":571,"v":5,"u":0},{"t":576,"v":2,"u":0},{"t":582,"v":2,"u":0},{"t":586,"v":2,"u":0},{"t":591,"v":6,"u":1},{"t":594,"v":4,"u":0},{"t":599,"v":6,"u":0},{"t":603,"v":2,"u":0},{"t":607,"v":7,"u":0},{"t":612,"v":3,"u":0},{"t":616,"v":10,"u":1},{"t":620,"v":3,"u":0},{"t":624,"v":3,"u":0},{"t":628,"v":7,"u":0},{"t":632,"v":3,"u":0},{"t":637,"v":4,"u":1},{"t":641,"v":5,"u":0},{"t":645,"v":11,"u":1},{"t":647,"v":21,"u":1},{"t":649,"v":14,"u":1},{"t":650,"v":11,"u":0},{"t":652,"v":16,"u":1},{"t":653,"v":15,"u":0},{"t":656,"v":16,"u":1},{"t":657,"v":20,"u":0},{"t":658,"v":16,"u":0},{"t":659,"v":13,"u":0},{"t":662,"v":21,"u":1},{"t":664,"v":35,"u":0},{"t":665,"v":15,"u":0},{"t":667.5,"v":17,"u":0},{"t":670,"v":13,"u":0},{"t":672.6,"v":14,"u":0},{"t":675,"v":7,"u":0},{"t":677,"v":9,"u":0},{"t":680,"v":4,"u":0},{"t":682,"v":6,"u":0},{"t":684.5,"v":13,"u":0},{"t":687,"v":13,"u":0},{"t":689.6,"v":15,"u":0},{"t":691,"v":13,"u":0},{"t":693,"v":13,"u":1},{"t":694.5,"v":5,"u":0},{"t":696,"v":16,"u":1},{"t":699,"v":8,"u":0},{"t":701,"v":8,"u":0},{"t":703,"v":19,"u":1},{"t":705,"v":16,"u":0},{"t":707,"v":9,"u":0},{"t":709,"v":7,"u":1},{"t":711,"v":33.5,"u":1},{"t":712,"v":40,"u":1},{"t":713.3,"v":73,"u":1},{"t":714.6,"v":50.4,"u":1}],
"ma":[{"t":0,"m":18.5},{"t":2.8,"m":21.7},{"t":7.7,"m":18},{"t":9.2,"m":22.7},{"t":14.8,"m":23.7},{"t":19.4,"m":26},{"t":21.8,"m":22.7},{"t":24.5,"m":23.7},{"t":26.8,"m":18},{"t":32.3,"m":17},{"t":34.2,"m":16},{"t":40.6,"m":14.4},{"t":53.5,"m":13.3},{"t":60,"m":10.8},{"t":66.5,"m":9.2},{"t":76.6,"m":7},{"t":86.8,"m":5.6},{"t":96,"m":5},{"t":109,"m":5},{"t":118,"m":8},{"t":127,"m":11},{"t":138.5,"m":12.3},{"t":147.7,"m":9},{"t":158.8,"m":6.7},{"t":177,"m":7.7},{"t":190,"m":5.6},{"t":201,"m":4},{"t":212,"m":3.5},{"t":220.6,"m":2.3},{"t":224.3,"m":4},{"t":229,"m":17.5},{"t":232.6,"m":20},{"t":240,"m":22.7},{"t":248.3,"m":24},{"t":252,"m":14.4},{"t":255.7,"m":9.2},{"t":265.8,"m":5.4},{"t":277,"m":7},{"t":288,"m":9.2},{"t":300.6,"m":8},{"t":309.8,"m":6},{"t":317,"m":6.7},{"t":323.7,"m":10},{"t":331,"m":11.7},{"t":344,"m":11},{"t":350.4,"m":7},{"t":367,"m":5.4},{"t":376,"m":2.9},{"t":393,"m":1.9},{"t":407.6,"m":3},{"t":418.7,"m":5},{"t":429.8,"m":7},{"t":437,"m":8.8},{"t":444.6,"m":7},{"t":451,"m":9.8},{"t":458.4,"m":8},{"t":466.7,"m":17.5},{"t":476,"m":17.5},{"t":483,"m":18},{"t":489.8,"m":9.6},{"t":501,"m":7.7},{"t":520,"m":5},{"t":529.5,"m":4},{"t":544,"m":4.6},{"t":562.7,"m":3.3},{"t":579,"m":2.3},{"t":584.6,"m":3},{"t":603,"m":3.3},{"t":621.7,"m":4.2},{"t":642,"m":4},{"t":649.6,"m":7},{"t":659,"m":10.2},{"t":667,"m":15.4},{"t":679,"m":14.4},{"t":686.8,"m":10.6},{"t":699.8,"m":9.8},{"t":709,"m":11.2},{"t":712.8,"m":14.4},{"t":714.6,"m":18.6}],
"rsi":[{"t":0,"r":84.5},{"t":1.5,"r":86.3},{"t":3,"r":75.1},{"t":4.1,"r":80.1},{"t":6.1,"r":64.3},{"t":9.2,"r":58.5},{"t":11.1,"r":60.7},{"t":13.8,"r":52},{"t":17,"r":62.1},{"t":18.5,"r":56.2},{"t":20.7,"r":63.4},{"t":22.5,"r":70.6},{"t":24.9,"r":76},{"t":29.2,"r":83.2},{"t":30.5,"r":88.6},{"t":34.2,"r":91.3},{"t":35.4,"r":79.6},{"t":37.8,"r":70},{"t":39.7,"r":71.8},{"t":42.5,"r":61.6},{"t":46.2,"r":71.5},{"t":51.7,"r":49.9},{"t":54.5,"r":43.6},{"t":59.1,"r":61},{"t":61.3,"r":56.2},{"t":64.2,"r":47.2},{"t":66.5,"r":43.6},{"t":68.7,"r":37.3},{"t":71.1,"r":41.8},{"t":72,"r":36.4},{"t":75.7,"r":32.7},{"t":76.6,"r":40.9},{"t":78.5,"r":40.5},{"t":80.9,"r":35.1},{"t":84,"r":34},{"t":85.8,"r":30.9},{"t":89.5,"r":30},{"t":91.4,"r":27.9},{"t":92.7,"r":43},{"t":94.5,"r":41.8},{"t":95.6,"r":38.7},{"t":98.4,"r":39.4},{"t":100,"r":32.2},{"t":102.1,"r":30.9},{"t":106.1,"r":45.4},{"t":108.4,"r":38.2},{"t":110.2,"r":46.3},{"t":114.5,"r":63.4},{"t":116.7,"r":59.8},{"t":118.7,"r":67.3},{"t":121.3,"r":56.5},{"t":123.1,"r":61},{"t":125,"r":58},{"t":125.9,"r":61.6},{"t":127.7,"r":58},{"t":128.7,"r":60.7},{"t":130.1,"r":59.2},{"t":132,"r":65.7},{"t":133.3,"r":59.2},{"t":134.8,"r":62.5},{"t":136.2,"r":61},{"t":138.1,"r":62.8},{"t":140.3,"r":70},{"t":141.8,"r":62.8},{"t":143.1,"r":66.4},{"t":144,"r":66.6},{"t":145.3,"r":57},{"t":147.7,"r":57.4},{"t":148.8,"r":55.3},{"t":151,"r":62.8},{"t":152.5,"r":57},{"t":154.7,"r":58.9},{"t":156,"r":57.6},{"t":161.9,"r":57.6},{"t":163.9,"r":68.8},{"t":165.6,"r":56.2},{"t":167.6,"r":49.5},{"t":169.8,"r":48.1},{"t":173.2,"r":48.6},{"t":175,"r":43.6},{"t":178.1,"r":45.4},{"t":179.1,"r":44.1},{"t":180.5,"r":57.4},{"t":181.8,"r":53.5},{"t":183.1,"r":46.3},{"t":185.7,"r":46.8},{"t":187.2,"r":43.6},{"t":190.1,"r":44.5},{"t":191.6,"r":50.4},{"t":193.3,"r":48.4},{"t":194.8,"r":44.5},{"t":196.6,"r":48.4},{"t":197.9,"r":44.8},{"t":200.3,"r":45},{"t":204.9,"r":44.5},{"t":208.6,"r":45},{"t":212.3,"r":44.5},{"t":213.2,"r":60.1},{"t":214.7,"r":57},{"t":216.9,"r":42.7},{"t":220.6,"r":40},{"t":221.5,"r":33.7},{"t":223,"r":30},{"t":224.3,"r":45},{"t":226.1,"r":25.5},{"t":228,"r":25.5},{"t":230.4,"r":21},{"t":232.6,"r":15.6},{"t":236.3,"r":10.6},{"t":237.2,"r":10.6},{"t":238.5,"r":24.6},{"t":240,"r":31.5},{"t":243.7,"r":27.9},{"t":245.5,"r":37.6},{"t":247.7,"r":34.5},{"t":249.2,"r":40},{"t":252,"r":34.5},{"t":254.4,"r":29.1},{"t":256.6,"r":23.7},{"t":257.5,"r":33.6},{"t":259,"r":35.4},{"t":261.2,"r":34},{"t":264,"r":37.3},{"t":265.3,"r":41.2},{"t":266.4,"r":39.1},{"t":269.5,"r":39.4},{"t":270.8,"r":41.8},{"t":272.8,"r":43.6},{"t":275.1,"r":58.9},{"t":276.9,"r":52.6},{"t":278.7,"r":50.8},{"t":281.1,"r":65.7},{"t":282.8,"r":66.4},{"t":284.8,"r":51.7},{"t":286.1,"r":57.1},{"t":289.5,"r":40.9},{"t":291,"r":44.5},{"t":293.6,"r":38.5},{"t":295,"r":44.5},{"t":298.4,"r":44.1},{"t":300.6,"r":53.5},{"t":302,"r":51.3},{"t":303.3,"r":52.6},{"t":304.3,"r":50.4},{"t":306.5,"r":52.6},{"t":308.9,"r":47.7},{"t":311.7,"r":45.4},{"t":313.9,"r":50.8},{"t":316.3,"r":43},{"t":317.6,"r":46.3},{"t":318.7,"r":46.8},{"t":319.6,"r":58.3},{"t":321.3,"r":54.4},{"t":323.3,"r":46.3},{"t":325.7,"r":60.7},{"t":327.7,"r":47.2},{"t":329.2,"r":47.2},{"t":330.3,"r":57},{"t":332,"r":46.6},{"t":333.4,"r":48.4},{"t":334.4,"r":46.8},{"t":335.7,"r":48.1},{"t":337.9,"r":46.3},{"t":341.6,"r":46.8},{"t":342.7,"r":50.4},{"t":344.9,"r":47.2},{"t":348.6,"r":46.8},{"t":351,"r":45.4},{"t":354.5,"r":30},{"t":355.6,"r":42.7},{"t":356.9,"r":28.2},{"t":359.3,"r":24.1},{"t":360.6,"r":35.8},{"t":361.9,"r":27.3},{"t":363.7,"r":25},{"t":367.6,"r":44.1},{"t":369.8,"r":43},{"t":372.2,"r":39.4},{"t":374.4,"r":39.1},{"t":375.9,"r":40.5},{"t":377.2,"r":37.6},{"t":378.5,"r":38.7},{"t":382.7,"r":35.1},{"t":384.6,"r":29.1},{"t":387.9,"r":24.6},{"t":389.2,"r":29.1},{"t":391,"r":24.6},{"t":395.1,"r":21.4},{"t":396.2,"r":32.2},{"t":397.5,"r":27.9},{"t":399,"r":38.5},{"t":399.9,"r":34.5},{"t":402.1,"r":33.3},{"t":405.8,"r":27.9},{"t":408.6,"r":44.5},{"t":410.8,"r":53.5},{"t":412.3,"r":46.3},{"t":414.5,"r":43.6},{"t":415.4,"r":55.3},{"t":417.8,"r":65.2},{"t":419.3,"r":65.2},{"t":420.6,"r":60.7},{"t":421.5,"r":61.6},{"t":422.8,"r":55.3},{"t":424.8,"r":63.4},{"t":426.1,"r":51.1},{"t":431.3,"r":72.9},{"t":432.2,"r":63.9},{"t":434,"r":68.8},{"t":435.9,"r":69.2},{"t":437.2,"r":62.5},{"t":438.7,"r":59.8},{"t":440.1,"r":57.6},{"t":442.7,"r":60.1},{"t":446.4,"r":47.7},{"t":448.8,"r":61},{"t":451.4,"r":54},{"t":454.7,"r":66.1},{"t":456.6,"r":74.2},{"t":459,"r":79.1},{"t":461.2,"r":81.4},{"t":462.1,"r":71.5},{"t":464,"r":69.7},{"t":465.8,"r":66.4},{"t":467.1,"r":70.6},{"t":468.6,"r":61.6},{"t":470,"r":61},{"t":472.3,"r":62.1},{"t":474.1,"r":58.5},{"t":476.5,"r":66.1},{"t":477.8,"r":67.3},{"t":479.6,"r":60.7},{"t":480.9,"r":61.6},{"t":483.3,"r":44.8},{"t":484.8,"r":49},{"t":486.1,"r":44.1},{"t":487.4,"r":49.3},{"t":489.2,"r":45.4},{"t":490.7,"r":52.6},{"t":493.5,"r":57.6},{"t":494.8,"r":51.7},{"t":497.7,"r":50.4},{"t":499.6,"r":60.7},{"t":501.8,"r":60.7},{"t":502.9,"r":54},{"t":504.6,"r":54.4},{"t":507,"r":49},{"t":507.9,"r":49.3},{"t":509.2,"r":43},{"t":510.5,"r":48.1},{"t":512.3,"r":48.1},{"t":513.6,"r":42.1},{"t":515.1,"r":46.3},{"t":516.9,"r":40.9},{"t":518.8,"r":43.6},{"t":521.2,"r":33.6},{"t":524.3,"r":26},{"t":526.7,"r":36.4},{"t":528,"r":30.9},{"t":529.1,"r":35.4},{"t":530.4,"r":32.7},{"t":532.3,"r":30.9},{"t":534.1,"r":38.2},{"t":535.9,"r":38.7},{"t":538.7,"r":35.1},{"t":540.2,"r":49.9},{"t":542,"r":58.9},{"t":543.3,"r":52},{"t":544.8,"r":54.7},{"t":548.5,"r":49.9},{"t":552.9,"r":65.7},{"t":555.5,"r":56.2},{"t":556.6,"r":64.3},{"t":558.1,"r":60.7},{"t":559.9,"r":58},{"t":561.4,"r":60.1},{"t":565.5,"r":46.6},{"t":567.3,"r":47.2},{"t":568.6,"r":41.8},{"t":570.1,"r":41.8},{"t":571,"r":36.4},{"t":573.8,"r":39.1},{"t":575.3,"r":35.4},{"t":576.6,"r":34.5},{"t":579,"r":31.9},{"t":581.2,"r":28.8},{"t":584.2,"r":33.3},{"t":586.4,"r":30},{"t":587.7,"r":30.9},{"t":588.8,"r":29.7},{"t":590.1,"r":44.5},{"t":591.4,"r":51.1},{"t":593.9,"r":45},{"t":595.2,"r":44.5},{"t":596.3,"r":39.6},{"t":597.6,"r":39.1},{"t":598.5,"r":45.4},{"t":600.9,"r":43.6},{"t":602,"r":38.5},{"t":603.5,"r":44.5},{"t":605.8,"r":60.3},{"t":606.9,"r":54},{"t":608.2,"r":60.3},{"t":610.6,"r":54.9},{"t":611.5,"r":56.5},{"t":613,"r":53.5},{"t":614.3,"r":53.1},{"t":615.2,"r":43.6},{"t":616.7,"r":52.6},{"t":617.6,"r":47.7},{"t":618.9,"r":53.8},{"t":620.2,"r":51.1},{"t":622.3,"r":51.7},{"t":623.6,"r":47.2},{"t":625.8,"r":52.6},{"t":626.9,"r":59.8},{"t":628.1,"r":61.4},{"t":629.5,"r":56.5},{"t":631.6,"r":58.5},{"t":633.3,"r":51.3},{"t":634.4,"r":55.3},{"t":635.7,"r":55.6},{"t":637,"r":60.3},{"t":638.1,"r":61.9},{"t":638.8,"r":59.8},{"t":640.3,"r":60.7},{"t":641.8,"r":56.2},{"t":642.7,"r":57},{"t":644,"r":51.7},{"t":645,"r":65.7},{"t":646.3,"r":67},{"t":647.4,"r":75.6},{"t":648.7,"r":80.1},{"t":651.5,"r":62.1},{"t":652.8,"r":70},{"t":653.9,"r":67},{"t":655.2,"r":67},{"t":656.1,"r":70.6},{"t":657.4,"r":62.8},{"t":659.5,"r":60.7},{"t":660.9,"r":57},{"t":662.2,"r":62.1},{"t":663.5,"r":64.3},{"t":664.8,"r":61},{"t":666.7,"r":49.9},{"t":668.2,"r":40.9},{"t":669.1,"r":39.1},{"t":671.3,"r":41.4},{"t":672.8,"r":34.5},{"t":674.1,"r":31.3},{"t":675.1,"r":40.5},{"t":676.5,"r":40.3},{"t":679.3,"r":37.8},{"t":682.1,"r":38.2},{"t":683.4,"r":48.1},{"t":685.5,"r":44.1},{"t":687,"r":54},{"t":688.1,"r":50.4},{"t":689.9,"r":51.1},{"t":691.8,"r":46.3},{"t":693.3,"r":50.2},{"t":695.5,"r":49},{"t":697.9,"r":54},{"t":698.8,"r":49.5},{"t":700.1,"r":47.5},{"t":701.6,"r":50.8},{"t":702.9,"r":61},{"t":703.9,"r":64.3},{"t":705.3,"r":61.6},{"t":706.3,"r":61.6},{"t":707.2,"r":56.5},{"t":708.7,"r":60.7},{"t":710,"r":67},{"t":711.3,"r":73.3},{"t":713.1,"r":80.5},{"t":714.6,"r":83.09}]
},
"vconcat":[
{"width":1801,"height":791,
"encoding":{"x":{"field":"t","type":"quantitative","scale":{"domain":[0,841],"nice":false,"zero":false,"padding":0},"axis":null}},
"resolve":{"scale":{"y":"independent"}},
"layer":[
{"data":{"name":"zones"},"mark":{"type":"rect","fill":"#e7e7e7"},"encoding":{"x2":{"field":"t2"},"y":{"field":"a","type":"quantitative","scale":{"domain":[1870,7536],"nice":false,"zero":false},"axis":{"orient":"right","title":null,"grid":false,"values":[2000,2250,2500,2750,3000,3250,3500,3750,4000,4250,4500,4750,5000,5250,5500,5788,6000,6250,6500,6750,7000,7250,7500],"format":"d","domainColor":"#50535e","tickColor":"#50535e","tickSize":4,"labelPadding":5,"labelFont":"Roboto","labelFontSize":11.5,"labelColor":{"condition":{"test":"datum.value==5788","value":"#111111"},"value":"#50535e"}}},"y2":{"field":"b"}}},
{"data":{"name":"volume"},"mark":{"type":"bar","size":3,"clip":true},"encoding":{"y":{"field":"v","type":"quantitative","scale":{"domain":[0,494],"nice":false,"zero":false},"axis":null},"fill":{"condition":{"test":"datum.u==1","value":"#bce5d3"},"value":"#f9c0c5"}}},
{"data":{"name":"ma"},"mark":{"type":"area","color":"#2196f3","opacity":0.4,"interpolate":"monotone"},"encoding":{"y":{"field":"m","type":"quantitative","scale":{"domain":[0,494],"nice":false,"zero":false},"axis":null}}},
{"data":{"name":"ma"},"mark":{"type":"line","color":"#84c6f8","strokeWidth":1,"interpolate":"monotone","clip":true},"encoding":{"y":{"field":"m","type":"quantitative","scale":{"domain":[0,494],"nice":false,"zero":false},"axis":null}}},
{"data":{"name":"candles"},"mark":{"type":"rule","color":"#000000","strokeWidth":1,"clip":true},"encoding":{"y":{"field":"l","type":"quantitative","scale":{"domain":[1870,7536],"nice":false,"zero":false},"axis":null},"y2":{"field":"h"}}},
{"data":{"name":"candles"},"mark":{"type":"bar","size":2.2,"stroke":"#000000","strokeWidth":1,"clip":true},"encoding":{"y":{"field":"o","type":"quantitative","scale":{"domain":[1870,7536],"nice":false,"zero":false},"axis":null},"y2":{"field":"c"},"fill":{"condition":{"test":"datum.c>=datum.o","value":"#ffffff"},"value":"#000000"}}},
{"data":{"values":[{"t":347,"p":4378},{"t":376.4,"p":5108}]},"mark":{"type":"point","filled":true,"color":"#000000","size":16,"shape":"circle","opacity":1},"encoding":{"y":{"field":"p","type":"quantitative","scale":{"domain":[1870,7536],"nice":false,"zero":false},"axis":null}}},
{"data":{"values":[{"t":267.6,"p":4829,"s":"انجمن خبرگــــان ســرمایه گذاری ایران"}]},"mark":{"type":"text","align":"left","baseline":"middle","font":"DejaVu Sans","fontWeight":"bold","fontSize":17,"color":"#6aaa50"},"encoding":{"y":{"field":"p","type":"quantitative","scale":{"domain":[1870,7536],"nice":false,"zero":false},"axis":null},"text":{"field":"s"}}},
{"data":{"values":[{"t":267.6,"p":4650,"s":"AMOOZESH-BOORS.COM"}]},"mark":{"type":"text","align":"left","baseline":"middle","font":"Open Sans","fontWeight":"bold","fontSize":27.2,"color":"#6aaa50"},"encoding":{"y":{"field":"p","type":"quantitative","scale":{"domain":[1870,7536],"nice":false,"zero":false},"axis":null},"text":{"field":"s"}}},
{"data":{"values":[{"t":3.7,"t2":13.1,"a":7164,"b":7307}]},"mark":{"type":"rect","fill":"#ffffff","stroke":"#dfe2e9","cornerRadius":3},"encoding":{"x2":{"field":"t2"},"y":{"field":"a","type":"quantitative","scale":{"domain":[1870,7536],"nice":false,"zero":false},"axis":null},"y2":{"field":"b"}}},
{"data":{"values":[{"t":8.4,"p":7236}]},"mark":{"type":"point","shape":"M-1,-0.5L0,0.5L1,-0.5","filled":false,"color":"#131722","size":30,"strokeWidth":1.2,"opacity":1},"encoding":{"y":{"field":"p","type":"quantitative","scale":{"domain":[1870,7536],"nice":false,"zero":false},"axis":null}}},
{"data":{"values":[{"t":4.4,"p":7422,"s":"آهنگری تراکتور"},{"t":68.9,"p":7422,"s":"بورس تهران"}]},"mark":{"type":"text","align":"left","baseline":"middle","font":"DejaVu Sans","fontSize":15,"color":"#131722"},"encoding":{"y":{"field":"p","type":"quantitative","scale":{"domain":[1870,7536],"nice":false,"zero":false},"axis":null},"text":{"field":"s"}}},
{"data":{"values":[{"t":50.5,"p":7432,"s":"·","k":"gray"},{"t":53.6,"p":7422,"s":"1D","k":"dark"},{"t":65,"p":7432,"s":"·","k":"gray"},{"t":109.5,"p":7422,"s":"O","k":"gray"},{"t":114.4,"p":7422,"s":"5500","k":"mid"},{"t":130.5,"p":7422,"s":"H","k":"gray"},{"t":135,"p":7422,"s":"5788","k":"mid"},{"t":151,"p":7422,"s":"L","k":"gray"},{"t":154.6,"p":7422,"s":"5431","k":"mid"},{"t":170.8,"p":7422,"s":"C","k":"gray"},{"t":174.5,"p":7422,"s":"5788","k":"mid"},{"t":191,"p":7422,"s":"+364 (+6.71%)","k":"mid"},{"t":17,"p":7245,"s":"Volume","k":"dark"},{"t":38.8,"p":7245,"s":"20","k":"gray"},{"t":49.9,"p":7245,"s":"50.408M","k":"green"},{"t":76.3,"p":7245,"s":"18.613M","k":"blue"}]},"mark":{"type":"text","align":"left","baseline":"middle","font":"DejaVu Sans Condensed","fontSize":12},"encoding":{"y":{"field":"p","type":"quantitative","scale":{"domain":[1870,7536],"nice":false,"zero":false},"axis":null},"text":{"field":"s"},"color":{"field":"k","type":"nominal","legend":null,"scale":{"domain":["dark","gray","mid","green","blue"],"range":["#131722","#787b86","#2a2e39","#53b987","#2196f3"]}}}},
{"data":{"values":[{"t":0,"t2":870.4,"p":1870}]},"mark":{"type":"rule","color":"#50535e","strokeWidth":1,"clip":false},"encoding":{"x2":{"field":"t2"},"y":{"field":"p","type":"quantitative","scale":{"domain":[1870,7536],"nice":false,"zero":false},"axis":null}}}
]},
{"width":1801,"height":184,
"encoding":{"x":{"field":"t","type":"quantitative","scale":{"domain":[0,841],"nice":false,"zero":false},"axis":{"title":null,"grid":false,"values":[31.8,80.8,119.1,163.4,211,257.8,304.5,372.6,423,466,513.7,558,601,651.4,692,736.4,787.8],"labelExpr":"{'31.8':'Jul','80.8':'Sep','119.1':'10','163.4':'2021','211':'Mar','257.8':'Aug','304.5':'Oct','372.6':'2022','423':'Mar','466':'May','513.7':'Jul','558':'Sep','601':'Nov','651.4':'2023','692':'Mar','736.4':'May','787.8':'Jul'}[''+datum.value]","domainColor":"#50535e","tickColor":"#50535e","tickSize":4,"labelPadding":4,"labelFont":"Roboto","labelFontSize":12,"labelColor":"#50535e","labelFontWeight":{"condition":{"test":"datum.value==163.4||datum.value==372.6||datum.value==651.4","value":"bold"},"value":"normal"}}}},
"layer":[
{"data":{"values":[{"t":0,"t2":840.5,"a":30,"b":70}]},"mark":{"type":"rect","fill":"#f0e5f2"},"encoding":{"x2":{"field":"t2"},"y":{"field":"a","type":"quantitative","scale":{"domain":[1.9,101.3],"nice":false,"zero":false},"axis":{"orient":"right","title":null,"grid":false,"values":[20,40,60,80,100],"format":".4f","domainColor":"#50535e","tickColor":"#50535e","tickSize":4,"labelPadding":5,"labelFont":"Roboto","labelFontSize":11.5,"labelColor":"#50535e"}},"y2":{"field":"b"}}},
{"data":{"values":[{"t":0,"t2":840.5,"r":70},{"t":0,"t2":840.5,"r":30}]},"mark":{"type":"rule","color":"#787b86","strokeWidth":1,"strokeDash":[4,3]},"encoding":{"x2":{"field":"t2"},"y":{"field":"r","type":"quantitative"}}},
{"data":{"name":"rsi"},"mark":{"type":"line","color":"#ab4fb3","strokeWidth":1,"clip":true},"encoding":{"y":{"field":"r","type":"quantitative"}}},
{"data":{"values":[{"t":3.7,"t2":13.1,"a":86.8,"b":97.6}]},"mark":{"type":"rect","fill":"#ffffff","stroke":"#dfe2e9","cornerRadius":3},"encoding":{"x2":{"field":"t2"},"y":{"field":"a","type":"quantitative"},"y2":{"field":"b"}}},
{"data":{"values":[{"t":8.4,"r":92.2}]},"mark":{"type":"point","shape":"M-1,-0.5L0,0.5L1,-0.5","filled":false,"color":"#131722","size":30,"strokeWidth":1.2,"opacity":1},"encoding":{"y":{"field":"r","type":"quantitative"}}},
{"data":{"values":[{"t":17,"r":92.9,"s":"RSI","k":"dark"},{"t":28.6,"r":92.9,"s":"14","k":"gray"},{"t":39.1,"r":92.9,"s":"83.0908","k":"purple"}]},"mark":{"type":"text","align":"left","baseline":"middle","font":"DejaVu Sans Condensed","fontSize":12},"encoding":{"y":{"field":"r","type":"quantitative"},"text":{"field":"s"},"color":{"field":"k","type":"nominal","legend":null,"scale":{"domain":["dark","gray","purple"],"range":["#131722","#787b86","#8e0a8e"]}}}},
{"data":{"values":[{"t":11.4,"r":18.1}]},"mark":{"type":"point","shape":"circle","filled":true,"fill":"#ffffff","stroke":"#e6e8ee","strokeWidth":1,"size":855,"opacity":1},"encoding":{"y":{"field":"r","type":"quantitative"}}},
{"data":{"values":[{"t":11.4,"r":18.1}]},"mark":{"type":"point","shape":"M-0.75,0.6C-1.1,0.6,-1.1,0.05,-0.72,0.05C-0.65,-0.5,-0.2,-0.75,0.05,-0.35C0.3,-0.5,0.65,-0.3,0.62,-0.02C1.1,0,1.1,0.6,0.75,0.6Z","filled":true,"color":"#2e9ef0","size":484,"opacity":1},"encoding":{"y":{"field":"r","type":"quantitative"}}},
{"data":{"values":[{"t":11.4,"r":18.1}]},"mark":{"type":"point","shape":"M-0.9,0.15L-0.45,-0.3L0,0.1L0.4,-0.2L0.9,0.25","filled":false,"color":"#ffffff","strokeWidth":1.8,"size":484,"opacity":1},"encoding":{"y":{"field":"r","type":"quantitative"}}},
{"data":{"values":[{"t":856,"r":-6.2,"s":"☼"}]},"mark":{"type":"text","font":"DejaVu Sans","fontSize":19,"color":"#131722","align":"center","baseline":"middle"},"encoding":{"y":{"field":"r","type":"quantitative"},"text":{"field":"s"}}},
{"data":{"values":[{"t":841,"t2":870.4,"r":1.9},{"t":0,"t2":870.4,"r":-12.6}]},"mark":{"type":"rule","clip":false,"strokeWidth":1},"encoding":{"x2":{"field":"t2"},"y":{"field":"r","type":"quantitative"},"color":{"condition":{"test":"datum.r<0","value":"#e0e3eb"},"value":"#50535e"}}},
{"data":{"values":[{"t":841,"a":1.9,"b":-12.6}]},"mark":{"type":"rule","color":"#50535e","strokeWidth":1,"clip":false},"encoding":{"y":{"field":"a","type":"quantitative"},"y2":{"field":"b"}}}
]}
]}
